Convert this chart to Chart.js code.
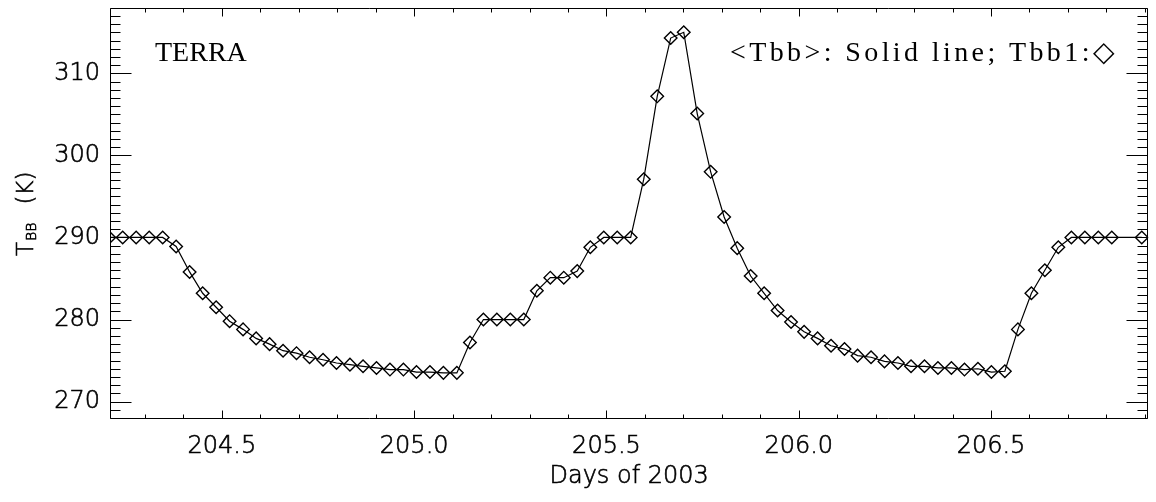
<!DOCTYPE html>
<html>
<head>
<meta charset="utf-8">
<title>TERRA blackbody temperature</title>
<script src="https://cdn.jsdelivr.net/npm/chart.js@4.4.1/dist/chart.umd.min.js"></script>
<style>
  html, body { margin: 0; padding: 0; background: #ffffff; }
  #wrap { position: relative; width: 1156px; height: 502px; }
</style>
</head>
<body>
<div id="wrap"><canvas id="c" width="1156" height="502"></canvas></div>
<script>
// Sample times (fractional day of year 2003)
const days = [
  204.207, 204.242, 204.277, 204.311, 204.346, 204.381, 204.416, 204.450, 204.485, 204.520,
  204.555, 204.589, 204.624, 204.659, 204.694, 204.728, 204.763, 204.798, 204.833, 204.867,
  204.902, 204.937, 204.972, 205.006, 205.041, 205.076, 205.111, 205.145, 205.180, 205.215,
  205.250, 205.285, 205.319, 205.354, 205.389, 205.424, 205.458, 205.493, 205.528, 205.563,
  205.597, 205.632, 205.667, 205.701, 205.736, 205.771, 205.806, 205.840, 205.875, 205.910,
  205.945, 205.980, 206.014, 206.049, 206.084, 206.119, 206.153, 206.188, 206.223, 206.258,
  206.292, 206.327, 206.362, 206.397, 206.431, 206.466, 206.501, 206.536, 206.570, 206.605,
  206.640, 206.675, 206.709, 206.744, 206.779, 206.814, 206.892
];

// Mean blackbody temperature <Tbb> (K), solid line
const tbbMean = [
  290.0, 290.0, 290.0, 290.0, 290.0, 288.9, 285.8, 283.2, 281.5, 279.8,
  278.8, 277.7, 277.0, 276.2, 275.9, 275.4, 275.1, 274.7, 274.5, 274.3,
  274.1, 273.9, 273.9, 273.6, 273.6, 273.5, 273.5, 277.2, 280.0, 280.0,
  280.0, 280.0, 283.5, 285.1, 285.1, 285.9, 288.8, 290.0, 290.0, 290.0,
  297.1, 307.2, 314.3, 315.0, 305.1, 298.0, 292.5, 288.7, 285.3, 283.2,
  281.1, 279.7, 278.5, 277.7, 276.8, 276.4, 275.6, 275.4, 274.9, 274.7,
  274.3, 274.3, 274.1, 274.1, 273.9, 274.0, 273.6, 273.7, 278.8, 283.2,
  286.0, 288.8, 290.0, 290.0, 290.0, 290.0, 290.0
];

// Blackbody thermistor 1, Tbb1 (K), diamonds
const tbb1 = [
  290.0, 290.0, 290.0, 290.0, 290.0, 288.9, 285.8, 283.2, 281.5, 279.8,
  278.8, 277.7, 277.0, 276.2, 275.9, 275.4, 275.1, 274.7, 274.5, 274.3,
  274.1, 273.9, 273.9, 273.6, 273.6, 273.5, 273.5, 277.2, 280.0, 280.0,
  280.0, 280.0, 283.5, 285.1, 285.1, 285.9, 288.8, 290.0, 290.0, 290.0,
  297.1, 307.2, 314.3, 315.0, 305.1, 298.0, 292.5, 288.7, 285.3, 283.2,
  281.1, 279.7, 278.5, 277.7, 276.8, 276.4, 275.6, 275.4, 274.9, 274.7,
  274.3, 274.3, 274.1, 274.1, 273.9, 274.0, 273.6, 273.7, 278.8, 283.2,
  286.0, 288.8, 290.0, 290.0, 290.0, 290.0, 290.0
];

const xTickValues = [204.5, 205.0, 205.5, 206.0, 206.5];
const yTickValues = [270, 280, 290, 300, 310];
const xRange = [204.209, 206.909];
const yRange = [268, 318];

const satelliteLabel = 'TERRA';
const keyLabel = '<Tbb>: Solid line; Tbb1:\u25C7';
const xTitle = 'Days of 2003';

const SANS = '"DejaVu Sans", sans-serif';
const TICK_FONT = { family: SANS, size: 24, weight: 200 };
const TEXT_STROKE = 0.6;

// Box frame with inward major/minor ticks on all four sides
const frameTicks = {
  id: 'frameTicks',
  afterDatasetsDraw(chart) {
    const { ctx, chartArea: a, scales: { x, y } } = chart;
    const L = Math.round(a.left) + 0.5, R = Math.round(a.right) - 0.5;
    const T = Math.round(a.top) + 0.5, B = Math.round(a.bottom) + 0.5;
    ctx.save();
    ctx.strokeStyle = '#000';
    ctx.lineWidth = 1;
    ctx.beginPath();
    ctx.rect(L, T, R - L, B - T);

    const xTick = (v, len) => {
      const px = Math.round(x.getPixelForValue(v)) + 0.5;
      ctx.moveTo(px, B); ctx.lineTo(px, B - len);
      ctx.moveTo(px, T); ctx.lineTo(px, T + len);
    };
    const yTick = (v, len) => {
      const py = Math.round(y.getPixelForValue(v)) + 0.5;
      ctx.moveTo(L, py); ctx.lineTo(L + len, py);
      ctx.moveTo(R, py); ctx.lineTo(R - len, py);
    };

    for (let k = Math.ceil(x.min * 10); k <= Math.floor(x.max * 10); k++) {
      xTick(k / 10, k % 5 === 0 ? 8 : 4);
    }
    for (let k = Math.ceil(y.min); k <= Math.floor(y.max); k++) {
      yTick(k, k % 10 === 0 ? 21 : 10);
    }
    ctx.stroke();
    ctx.restore();
  }
};

// Fill plus a hairline stroke so the light face reads as a pen line
function penText(ctx, text, x, y) {
  ctx.fillText(text, x, y);
  ctx.strokeText(text, x, y);
}

// Axis titles and in-plot labels
const annotations = {
  id: 'annotations',
  afterDraw(chart) {
    const { ctx, chartArea: a } = chart;
    ctx.save();
    ctx.fillStyle = '#000';
    ctx.strokeStyle = '#000';
    ctx.lineWidth = TEXT_STROKE;
    ctx.textAlign = 'left';
    ctx.textBaseline = 'alphabetic';

    ctx.font = '28px "Liberation Serif", serif';
    ctx.fillText(satelliteLabel, a.left + 45, a.top + 53);
    if ('letterSpacing' in ctx) ctx.letterSpacing = '3.4px';
    ctx.fillText(keyLabel, a.left + 620, a.top + 53);
    if ('letterSpacing' in ctx) ctx.letterSpacing = '0px';

    // x-axis title
    ctx.font = '200 24px ' + SANS;
    ctx.textAlign = 'center';
    ctx.textBaseline = 'middle';
    penText(ctx, xTitle, (a.left + a.right) / 2, 477);

    // y-axis title, T with subscript BB
    ctx.textAlign = 'left';
    ctx.textBaseline = 'alphabetic';
    ctx.translate(33, 256);
    ctx.rotate(-Math.PI / 2);
    ctx.font = '200 23px ' + SANS;
    penText(ctx, 'T', 0, 0);
    let w = ctx.measureText('T').width + 1;
    ctx.font = '200 14px ' + SANS;
    penText(ctx, 'BB', w, 3);
    w += ctx.measureText('BB').width + 18;
    ctx.font = '200 23px ' + SANS;
    penText(ctx, '(K)', w, 0);
    ctx.restore();
  }
};

const toPoints = (xs, ys) => xs.map((d, i) => ({ x: d, y: ys[i] }));

new Chart(document.getElementById('c'), {
  type: 'scatter',
  data: {
    datasets: [
      {
        label: '<Tbb>',
        data: toPoints(days, tbbMean),
        showLine: true,
        borderColor: '#000',
        borderWidth: 1.2,
        pointRadius: 0,
        pointHoverRadius: 0,
        tension: 0,
        clip: 0,
        order: 2
      },
      {
        label: 'Tbb1',
        data: toPoints(days, tbb1),
        showLine: false,
        pointStyle: 'rectRot',
        pointRadius: 6.3,
        pointHoverRadius: 6.3,
        pointBorderWidth: 1.4,
        pointBorderColor: '#000',
        pointBackgroundColor: 'rgba(0,0,0,0)',
        clip: 0,
        order: 1
      }
    ]
  },
  options: {
    responsive: false,
    animation: false,
    devicePixelRatio: 1,
    layout: { padding: { top: 7, right: 0, bottom: 0, left: 0 } },
    plugins: {
      legend: { display: false },
      tooltip: { enabled: false },
      title: { display: false }
    },
    events: [],
    scales: {
      x: {
        type: 'linear',
        position: 'bottom',
        min: xRange[0],
        max: xRange[1],
        afterBuildTicks: s => { s.ticks = xTickValues.map(v => ({ value: v })); },
        afterFit: s => {
          s.height = 84;
          s.paddingLeft = 0; s.paddingRight = 0;
          s.paddingTop = 0; s.paddingBottom = 0;
        },
        grid: { display: false, drawTicks: false, tickLength: 0 },
        border: { display: false },
        ticks: {
          autoSkip: false,
          maxRotation: 0,
          padding: 14,
          color: '#000',
          textStrokeColor: '#000',
          textStrokeWidth: TEXT_STROKE,
          font: TICK_FONT,
          callback: v => Number(v).toFixed(1)
        },
        title: { display: false }
      },
      y: {
        type: 'linear',
        position: 'left',
        min: yRange[0],
        max: yRange[1],
        afterBuildTicks: s => { s.ticks = yTickValues.map(v => ({ value: v })); },
        afterFit: s => {
          s.width = 110;
          s.paddingLeft = 0; s.paddingRight = 0;
          s.paddingTop = 0; s.paddingBottom = 0;
        },
        grid: { display: false, drawTicks: false, tickLength: 0 },
        border: { display: false },
        ticks: {
          autoSkip: false,
          padding: 10,
          color: '#000',
          textStrokeColor: '#000',
          textStrokeWidth: TEXT_STROKE,
          font: TICK_FONT,
          callback: v => String(v)
        },
        title: { display: false }
      }
    }
  },
  plugins: [frameTicks, annotations]
});
</script>
</body>
</html>
